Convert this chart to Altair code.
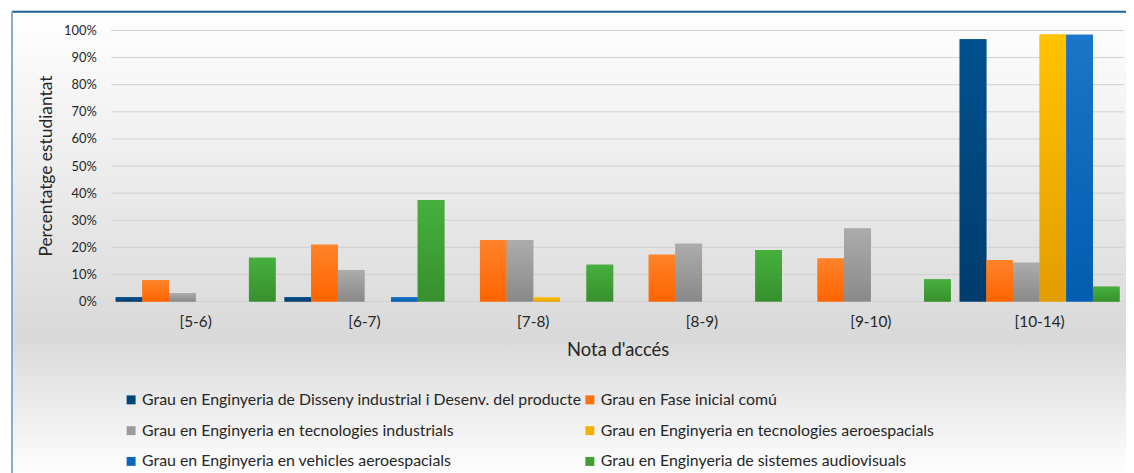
import altair as alt
import pandas as pd

categories = ["[5-6)", "[6-7)", "[7-8)", "[8-9)", "[9-10)", "[10-14)"]
series = [
    "Grau en Enginyeria de Disseny industrial i Desenv. del producte",
    "Grau en Fase inicial comú",
    "Grau en Enginyeria en tecnologies industrials",
    "Grau en Enginyeria en tecnologies aeroespacials",
    "Grau en Enginyeria en vehicles aeroespacials",
    "Grau en Enginyeria de sistemes audiovisuals",
]
disseny = [1.6, 1.6, 0, 0, 0, 96.8]
fase_inicial = [7.9, 21.0, 22.7, 17.3, 15.9, 15.2]
tecnologies_ind = [3.1, 11.6, 22.7, 21.3, 27.0, 14.3]
tecnologies_aero = [0, 0, 1.5, 0, 0, 98.5]
vehicles_aero = [0, 1.6, 0, 0, 0, 98.4]
audiovisuals = [16.2, 37.5, 13.6, 19.0, 8.2, 5.5]
y_ticks = [0, 10, 20, 30, 40, 50, 60, 70, 80, 90, 100]

legend_colors = ["#00467c", "#ff700f", "#9b9b9b", "#f5b000", "#0b67bc", "#3d9f34"]
top_colors = ["#005190", "#ff8329", "#acacac", "#ffc300", "#1b75c9", "#46b03e"]
bottom_colors = ["#003c6c", "#ff6400", "#898989", "#e39d00", "#005db0", "#37902d"]

values = [disseny, fase_inicial, tecnologies_ind, tecnologies_aero, vehicles_aero, audiovisuals]
rows = []
for s, vals in zip(series, values):
    for c, v in zip(categories, vals):
        rows.append({"nota": c, "grau": s, "pct": v})
df = pd.DataFrame(rows)

FONT = "Lato"
W, H = 1020, 273

x_axis = alt.Axis(title="Nota d'accés", ticks=False, domain=False, grid=False, labelPadding=20,
                  labelBaseline="middle", labelFontSize=15.5, labelFont=FONT, labelColor="#262626",
                  titleFont=FONT, titleFontSize=18.5, titleFontWeight="normal", titleColor="#262626",
                  titleY=48, titleBaseline="middle", labelAngle=0, zindex=1)
y_axis = alt.Axis(title="Percentatge estudiantat", values=y_ticks, labelExpr="datum.value + '%'",
                  ticks=False, domain=False, grid=False, labelPadding=15, labelFontSize=13,
                  labelOverlap=False,
                  labelFont=FONT, labelColor="#262626", titleFont=FONT, titleFontSize=17.5,
                  titleFontWeight="normal", titleColor="#262626", titleAngle=-90,
                  titleX=-65, titleY=136, titleAlign="center", titleBaseline="middle", zindex=1)
x_scale = alt.Scale(domain=categories, paddingInner=0.053, paddingOuter=0.0265)
y_scale = alt.Scale(domain=[0, 100], nice=False, zero=True)
xo_scale = alt.Scale(domain=series, paddingInner=0, paddingOuter=0)

bg_grad = alt.Gradient(gradient="linear",
                       stops=[alt.GradientStop(color="#ffffff", offset=0),
                              alt.GradientStop(color="#d9d9d9", offset=0.7),
                              alt.GradientStop(color="#ffffff", offset=1)],
                       x1=0, x2=0, y1=0, y2=1)
one = pd.DataFrame({"a": [0]})
background = alt.Chart(one).mark_rect(fill=bg_grad).encode(
    x=alt.value(-100), x2=alt.value(1030), y=alt.value(-19), y2=alt.value(450))
frame_top = alt.Chart(one).mark_rule(color="#1f6098", strokeWidth=2).encode(
    x=alt.value(-100), x2=alt.value(1030), y=alt.value(-19))
frame_left = alt.Chart(one).mark_rule(color="#86abcd", strokeWidth=2).encode(
    x=alt.value(-100), y=alt.value(-19), y2=alt.value(450))

grid = alt.Chart(pd.DataFrame({"pct": y_ticks})).mark_rule(color="#d0d0d0", strokeWidth=1).encode(
    y=alt.Y("pct:Q", scale=y_scale, axis=y_axis), x=alt.value(0), x2=alt.value(W))

base_bars = alt.Chart(df).mark_bar().encode(
    x=alt.X("nota:N", sort=categories, scale=x_scale, axis=x_axis),
    xOffset=alt.XOffset("grau:N", sort=series, scale=xo_scale),
    y=alt.Y("pct:Q", scale=y_scale, axis=y_axis),
    color=alt.Color("grau:N", sort=series, scale=alt.Scale(domain=series, range=legend_colors),
                    legend=alt.Legend(title=None, orient="none", legendX=12, legendY=364, columns=2,
                                      direction="horizontal",
                                      symbolType="square", symbolSize=81, symbolStrokeWidth=0,
                                      labelFont=FONT, labelFontSize=16, labelColor="#262626",
                                      labelLimit=800, labelOffset=3, rowPadding=15, columnPadding=0,
                                      padding=0)))

layers = [background, frame_top, frame_left, grid, base_bars]
for s, t, b in zip(series, top_colors, bottom_colors):
    g = alt.Gradient(gradient="linear", stops=[alt.GradientStop(color=t, offset=0), alt.GradientStop(color=b, offset=1)],
                     x1=0, x2=0, y1=0, y2=1)
    layers.append(alt.Chart(df).transform_filter(alt.datum.grau == s).mark_bar(fill=g).encode(
        x=alt.X("nota:N", sort=categories, scale=x_scale, axis=x_axis),
        xOffset=alt.XOffset("grau:N", sort=series, scale=xo_scale),
        y=alt.Y("pct:Q", scale=y_scale, axis=y_axis)))

chart = alt.layer(*layers).properties(
    width=W, height=H,
    autosize=alt.AutoSizeParams(type="none"),
    padding={"left": 104, "top": 21, "right": 2, "bottom": 171},
).configure_view(stroke=None).configure(background="#ffffff")

chart.save("out.html", embed_options={"renderer": "svg", "actions": False})
